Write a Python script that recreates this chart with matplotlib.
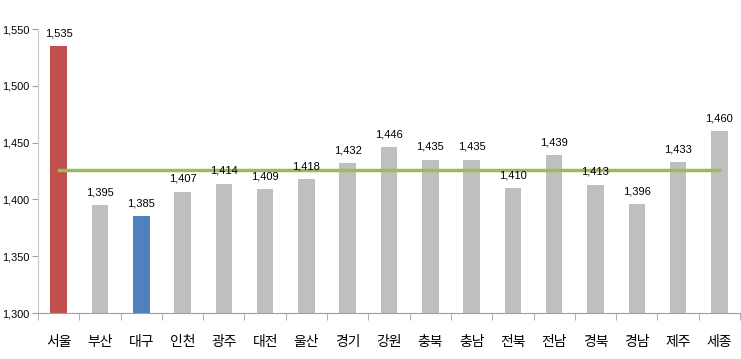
import numpy as np
import matplotlib.pyplot as plt
from matplotlib.ticker import FuncFormatter

regions = ["서울", "부산", "대구", "인천", "광주", "대전", "울산", "경기", "강원",
           "충북", "충남", "전북", "전남", "경북", "경남", "제주", "세종"]
values = [1535, 1395, 1385, 1407, 1414, 1409, 1418, 1432, 1446,
          1435, 1435, 1410, 1439, 1413, 1396, 1433, 1460]
average = 1426

num_font = ["Liberation Sans", "DejaVu Sans"]
kor_font = ["Noto Sans CJK KR", "DejaVu Sans"]

colors = ["#BFBFBF"] * len(regions)
colors[0] = "#C0504D"
colors[2] = "#4F81BD"

fig = plt.figure(figsize=(7.41, 3.59), dpi=100)
ax = fig.add_axes([0.0513, 0.128, 0.9474, 0.791])

x = np.arange(len(regions))
ax.bar(x, values, width=0.4, color=colors, zorder=2)
ax.plot([x[0], x[-1]], [average, average], color="#9BBB59", lw=2.5, zorder=3)

for xi, v in zip(x, values):
    ax.text(xi, v + 7, f"{v:,}", ha="center", va="bottom", fontsize=8,
            family=num_font, zorder=4)

ax.set_xlim(-0.5, len(regions) - 0.5)
ax.set_ylim(1300, 1550)
ax.set_yticks(np.arange(1300, 1551, 50))
ax.yaxis.set_major_formatter(FuncFormatter(lambda v, p: f"{int(v):,}"))
for lab in ax.get_yticklabels():
    lab.set_family(num_font)
    lab.set_fontsize(7.8)

ax.set_xticks(x)
ax.set_xticklabels(regions, family=kor_font, fontsize=10)
ax.set_xticks(np.arange(-0.5, len(regions)), minor=True)
ax.tick_params(axis="x", which="major", length=0, pad=16)
ax.tick_params(axis="x", which="minor", length=5, color="#A0A0A0")
ax.tick_params(axis="y", length=4, color="#A0A0A0", pad=2)

for s in ["top", "right"]:
    ax.spines[s].set_visible(False)
ax.spines["left"].set_color("#C8C8C8")
ax.spines["bottom"].set_color("#A0A0A0")

fig.savefig("out.png", dpi=100)
